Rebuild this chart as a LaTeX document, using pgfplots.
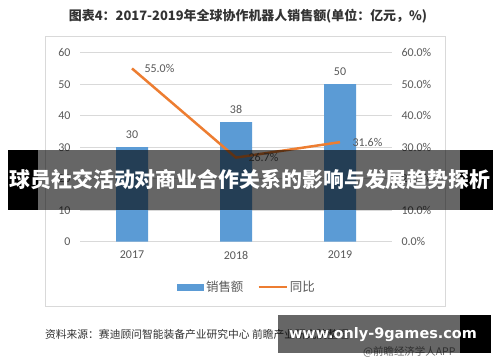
\documentclass[border=0pt]{standalone}
\usepackage{pgfplots}
\pgfplotsset{compat=1.18}
\usepackage{fontspec}
\setmainfont{Carlito}
\newfontfamily\cjk{Noto Sans CJK SC}
\newfontfamily\dejab{DejaVu Sans Bold}
\definecolor{barblue}{HTML}{5B9BD5}
\definecolor{lineorange}{HTML}{ED7D31}
\definecolor{txtgrey}{HTML}{595959}
\definecolor{gridgrey}{HTML}{D9D9D9}
\pgfplotsset{
  barleg/.style={legend image code/.code={\fill[barblue] (0bp,-3.5bp) rectangle (27bp,3.5bp);}},
  lineleg/.style={legend image code/.code={\draw[lineorange, line width=2.5bp] (0bp,0bp) -- (28bp,0bp);}},
}
\begin{document}
\begin{tikzpicture}[x=1bp,y=1bp]
\useasboundingbox (0,0) rectangle (500,362);
\fill[white] (0,0) rectangle (500,362);
\draw[gridgrey, line width=0.75bp] (45,325.3) rectangle (445,55.3);
\node[font=\cjk\bfseries\fontsize{13}{15}\selectfont, text=black!80] at (248,346) {图表4：2017-2019年全球协作机器人销售额(单位：亿元，\%)};
\begin{axis}[
  at={(80bp,120.3bp)}, anchor=south west,
  width=312bp, height=189bp, scale only axis,
  /pgf/number format/assume math mode=true,
  xmin=-0.5, xmax=2.5, ymin=0, ymax=60,
  xtick={0,1,2}, xticklabels={2017,2018,2019},
  ytick={0,10,...,60},
  axis line style={draw=none}, tick style={draw=none},
  ymajorgrids, major grid style={gridgrey, line width=0.75bp},
  ticklabel style={font=\fontsize{12}{14}\selectfont, text=txtgrey},
  yticklabel style={xshift=-6bp},
  xticklabel style={yshift=-6bp},
  legend style={at={(0.535,-0.24)}, anchor=center, draw=none, fill=none,
    legend columns=2, font=\cjk\fontsize{12.5}{14}\selectfont, text=txtgrey,
    /tikz/every even column/.append style={column sep=12bp}},
  legend cell align=left,
]
\addplot[ybar, bar width=32bp, fill=barblue, draw=none, barleg,
  nodes near coords, every node near coord/.append style={font=\fontsize{12}{14}\selectfont, text=txtgrey, yshift=5bp}]
  coordinates {(0,30) (1,38) (2,50)};
\addlegendentry{销售额}
\addlegendimage{lineleg}
\addlegendentry{同比}
\end{axis}
\begin{axis}[
  at={(80bp,120.3bp)}, anchor=south west,
  width=312bp, height=189bp, scale only axis,
  /pgf/number format/assume math mode=true,
  xmin=-0.5, xmax=2.5, ymin=0, ymax=60,
  axis y line*=right, axis x line=none,
  ytick={0,10,...,60},
  axis line style={draw=none}, tick style={draw=none},
  yticklabel={\pgfmathprintnumber[fixed,fixed zerofill,precision=1]{\tick}\%},
  ticklabel style={font=\fontsize{12}{14}\selectfont, text=txtgrey},
  yticklabel style={xshift=6bp},
]
\addplot[lineorange, line width=2.5bp, mark=none,
  nodes near coords={\pgfmathprintnumber[fixed,fixed zerofill,precision=1]{\pgfplotspointmeta}\%},
  every node near coord/.append style={anchor=west, xshift=8bp, font=\fontsize{12}{14}\selectfont, text=txtgrey}]
  coordinates {(0,55.0) (1,26.7) (2,31.6)};
\end{axis}
\node[anchor=west, font=\cjk\fontsize{10.8}{12}\selectfont, text=black!80, inner sep=0] at (45,28) {资料来源：赛迪顾问智能装备产业研究中心 前瞻产业研究院整理};
\node[anchor=west, font=\cjk\fontsize{10.5}{12}\selectfont, text=black!55, inner sep=0] at (363,10) {@前瞻经济学人APP};
% overlays
\fill[black] (8,152) rectangle (38,212);
\fill[black] (460,152) rectangle (493,212);
\fill[black, opacity=0.6] (38,152) rectangle (460,212);
\node[font=\cjk\bfseries\fontsize{21}{24}\selectfont, text=white] at (250,182) {球员社交活动对商业合作关系的影响与发展趋势探析};
\fill[black, opacity=0.6] (278,9) rectangle (460,47);
\fill[black] (460,9) rectangle (491,47);
\node[font=\dejab\fontsize{14.5}{16}\selectfont, text=white] at (383,27) {www.only-9games.com};
\end{tikzpicture}
\end{document}
